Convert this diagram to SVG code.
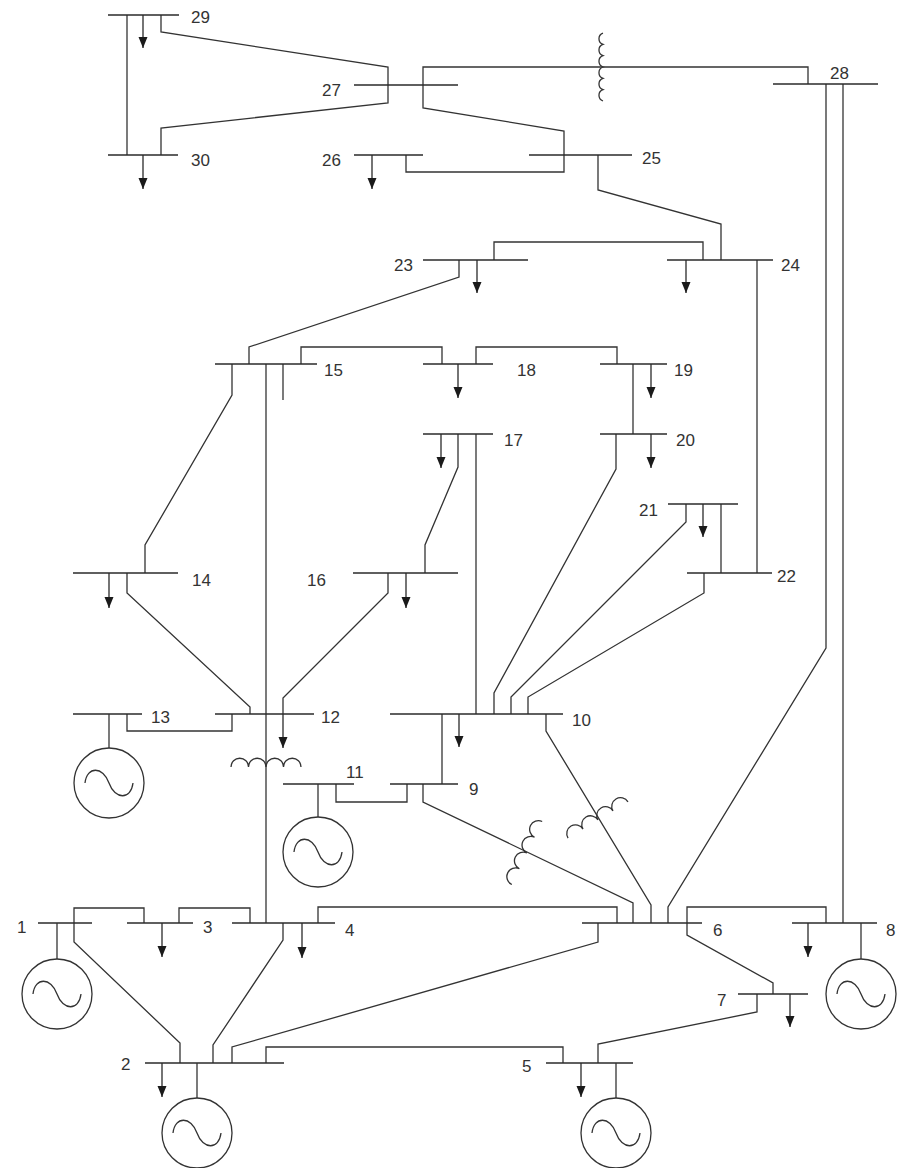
<svg xmlns="http://www.w3.org/2000/svg" xmlns:xlink="http://www.w3.org/1999/xlink" width="898" height="1168" viewBox="0 0 898 1168">
<style>
.bus{stroke:#2a2a2a;stroke-width:1.6;fill:none}
.ln{stroke:#333;stroke-width:1.3;fill:none}
.ld{stroke:#2a2a2a;stroke-width:1.3;fill:none;marker-end:url(#arr)}
.gl{stroke:#333;stroke-width:1.3;fill:none}
.lbl{font-family:"Liberation Sans",Arial,sans-serif;font-size:17px;fill:#333}
.coil{stroke:#333;stroke-width:1.3;fill:none}
</style>
<defs>
<marker id="arr" markerUnits="userSpaceOnUse" markerWidth="12" markerHeight="10" refX="11" refY="4.5" orient="auto">
<path d="M0,0 L11,4.5 L0,9 Z" fill="#1a1a1a"/>
</marker>
<g id="gen">
<circle cx="0" cy="0" r="35" fill="none" stroke="#333" stroke-width="1.3"/>
<path d="M-24,0 C-22,-17 -6,-17 0,0 C6,17 22,17 24,0" fill="none" stroke="#333" stroke-width="1.3"/>
</g>
<path id="coil4" d="M-35,0 a8.75,8.75 0 0 1 17.5,0 a8.75,8.75 0 0 1 17.5,0 a8.75,8.75 0 0 1 17.5,0 a8.75,8.75 0 0 1 17.5,0"/>
<path id="coil6" d="M-34,0 a6,6 0 0 1 11.33,0 a6,6 0 0 1 11.33,0 a6,6 0 0 1 11.33,0 a6,6 0 0 1 11.33,0 a6,6 0 0 1 11.33,0 a6,6 0 0 1 11.33,0"/>
</defs>
<rect width="898" height="1168" fill="#fff"/>

<g id="connectors">
<path class="ln" d="M127,15 V155"/>
<path class="ln" d="M161,15 V32 L388,67 V85"/>
<path class="ln" d="M388,85 V103 L161,128 V155"/>
<path class="ln" d="M423,85 V67 H808 V84"/>
<path class="ln" d="M423,85 V108 L564,131 V155"/>
<path class="ln" d="M564,155 V172 H406 V155"/>
<path class="ln" d="M598,155 V190 L721,224 V260"/>
<path class="ln" d="M494,260 V242 H703 V260"/>
<path class="ln" d="M757,260 V573"/>
<path class="ln" d="M459,260 V277 L249,347 V364"/>
<path class="ln" d="M301,364 V347 H442 V364"/>
<path class="ln" d="M476,364 V347 H617 V364"/>
<path class="ln" d="M633,364 V434"/>
<path class="ln" d="M283,364 V400"/>
<path class="ln" d="M266,364 V714"/>
<path class="ln" d="M266,714 V923"/>
<path class="ln" d="M232,364 V395 L145,545 V573"/>
<path class="ln" d="M127,573 V593 L250,707 V714"/>
<path class="ln" d="M388,573 V593 L283,698 V714"/>
<path class="ln" d="M232,714 V731 H127 V714"/>
<path class="ln" d="M458,434 V467 L425,545 V573"/>
<path class="ln" d="M476,434 V714"/>
<path class="ln" d="M616,434 V469 L494,693 V714"/>
<path class="ln" d="M686,504 V522 L511,697 V714"/>
<path class="ln" d="M704,573 V593 L528,697 V714"/>
<path class="ln" d="M721,504 V573"/>
<path class="ln" d="M442,714 V784"/>
<path class="ln" d="M546,714 V731 L651,905 V923"/>
<path class="ln" d="M407,784 V802 H336 V784"/>
<path class="ln" d="M423,784 V802 L633,903 V923"/>
<path class="ln" d="M843,84 V923"/>
<path class="ln" d="M826,84 V648 L668,907 V923"/>
<path class="ln" d="M687,923 V907 H826 V923"/>
<path class="ln" d="M318,923 V907 H617 V923"/>
<path class="ln" d="M687,923 V935 L773,983 V994"/>
<path class="ln" d="M757,994 V1012 L598,1044 V1063"/>
<path class="ln" d="M598,923 V942 L232,1047 V1063"/>
<path class="ln" d="M266,1063 V1047 H563 V1063"/>
<path class="ln" d="M283,923 V940 L213,1045 V1063"/>
<path class="ln" d="M74,923 V942 L180,1043 V1063"/>
<path class="ln" d="M74,923 V908 H144 V923"/>
<path class="ln" d="M179,923 V908 H250 V923"/>
<use xlink:href="#coil6" class="coil" transform="translate(603,67) rotate(-90)"/>
<use xlink:href="#coil4" class="coil" transform="translate(266,767)"/>
<use xlink:href="#coil4" class="coil" transform="translate(527,853) rotate(-64.3)"/>
<use xlink:href="#coil4" class="coil" transform="translate(598,820) rotate(-31.1)"/>
</g>

<g id="bus1"><path class="bus" d="M38,923 H92"/><text class="lbl" x="17" y="933">1</text><path class="gl" d="M57,923 V959"/><use xlink:href="#gen" x="57" y="994"/></g>
<g id="bus2"><path class="bus" d="M145,1063 H284"/><text class="lbl" x="121" y="1070">2</text><path class="ld" d="M162,1063 V1097"/><path class="gl" d="M197,1063 V1098"/><use xlink:href="#gen" x="197" y="1133"/></g>
<g id="bus3"><path class="bus" d="M127,923 H193"/><text class="lbl" x="203" y="933">3</text><path class="ld" d="M162,923 V957"/></g>
<g id="bus4"><path class="bus" d="M232,923 H335"/><text class="lbl" x="345" y="936">4</text><path class="ld" d="M302,923 V958"/></g>
<g id="bus5"><path class="bus" d="M546,1063 H633"/><text class="lbl" x="522" y="1072">5</text><path class="ld" d="M581,1063 V1097"/><path class="gl" d="M616,1063 V1098"/><use xlink:href="#gen" x="616" y="1133"/></g>
<g id="bus6"><path class="bus" d="M582,923 H702"/><text class="lbl" x="713" y="936">6</text></g>
<g id="bus7"><path class="bus" d="M738,994 H808"/><text class="lbl" x="717" y="1006">7</text><path class="ld" d="M790,994 V1027"/></g>
<g id="bus8"><path class="bus" d="M792,923 H877"/><text class="lbl" x="886" y="936">8</text><path class="ld" d="M808,923 V957"/><path class="gl" d="M861,923 V959"/><use xlink:href="#gen" x="861" y="994"/></g>
<g id="bus9"><path class="bus" d="M390,784 H458"/><text class="lbl" x="469" y="795">9</text></g>
<g id="bus10"><path class="bus" d="M390,714 H563"/><text class="lbl" x="572" y="726">10</text><path class="ld" d="M459,714 V747"/></g>
<g id="bus11"><path class="bus" d="M283,784 H354"/><text class="lbl" x="346" y="778">11</text><path class="gl" d="M318,784 V817"/><use xlink:href="#gen" x="318" y="852"/></g>
<g id="bus12"><path class="bus" d="M215,714 H314"/><text class="lbl" x="321" y="723">12</text><path class="ld" d="M283,714 V748"/></g>
<g id="bus13"><path class="bus" d="M73,714 H142"/><text class="lbl" x="151" y="723">13</text><path class="gl" d="M109,714 V748"/><use xlink:href="#gen" x="109" y="783"/></g>
<g id="bus14"><path class="bus" d="M73,573 H178"/><text class="lbl" x="192" y="586">14</text><path class="ld" d="M109,573 V608"/></g>
<g id="bus15"><path class="bus" d="M215,364 H317"/><text class="lbl" x="324" y="376">15</text></g>
<g id="bus16"><path class="bus" d="M353,573 H458"/><text class="lbl" x="307" y="586">16</text><path class="ld" d="M406,573 V608"/></g>
<g id="bus17"><path class="bus" d="M423,434 H493"/><text class="lbl" x="504" y="446">17</text><path class="ld" d="M441,434 V468"/></g>
<g id="bus18"><path class="bus" d="M423,364 H493"/><text class="lbl" x="517" y="376">18</text><path class="ld" d="M458,364 V398"/></g>
<g id="bus19"><path class="bus" d="M600,364 H667"/><text class="lbl" x="674" y="376">19</text><path class="ld" d="M651,364 V398"/></g>
<g id="bus20"><path class="bus" d="M600,434 H667"/><text class="lbl" x="676" y="446">20</text><path class="ld" d="M651,434 V468"/></g>
<g id="bus21"><path class="bus" d="M668,504 H738"/><text class="lbl" x="639" y="516">21</text><path class="ld" d="M703,504 V537"/></g>
<g id="bus22"><path class="bus" d="M687,573 H772"/><text class="lbl" x="777" y="582">22</text></g>
<g id="bus23"><path class="bus" d="M423,260 H528"/><text class="lbl" x="394" y="271">23</text><path class="ld" d="M477,260 V293"/></g>
<g id="bus24"><path class="bus" d="M667,260 H773"/><text class="lbl" x="781" y="271">24</text><path class="ld" d="M686,260 V293"/></g>
<g id="bus25"><path class="bus" d="M529,155 H632"/><text class="lbl" x="642" y="164">25</text></g>
<g id="bus26"><path class="bus" d="M354,155 H423"/><text class="lbl" x="322" y="166">26</text><path class="ld" d="M372,155 V189"/></g>
<g id="bus27"><path class="bus" d="M354,85 H458"/><text class="lbl" x="322" y="96">27</text></g>
<g id="bus28"><path class="bus" d="M773,84 H878"/><text class="lbl" x="830" y="79">28</text></g>
<g id="bus29"><path class="bus" d="M108,15 H179"/><text class="lbl" x="191" y="23">29</text><path class="ld" d="M143,15 V48"/></g>
<g id="bus30"><path class="bus" d="M108,155 H178"/><text class="lbl" x="191" y="166">30</text><path class="ld" d="M143,155 V189"/></g>
</svg>
